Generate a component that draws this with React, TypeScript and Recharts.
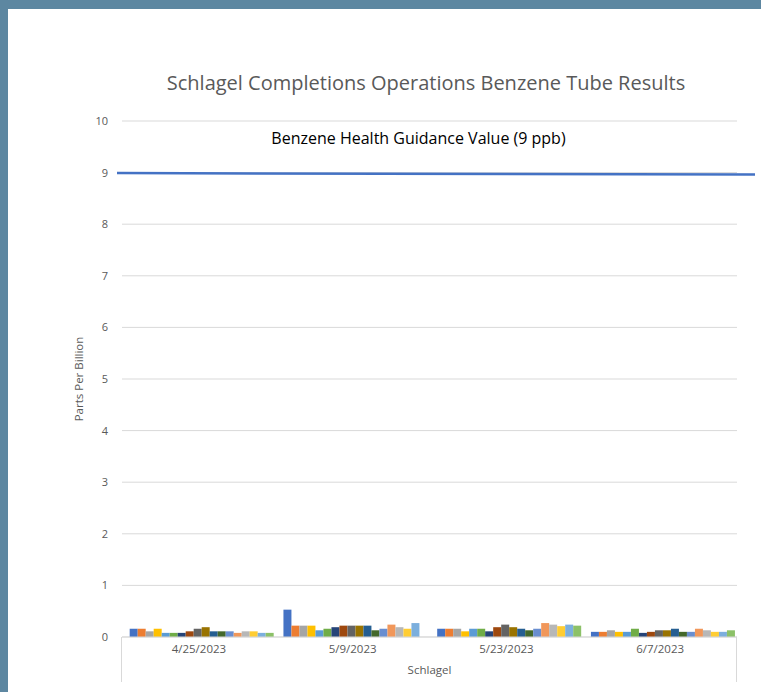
import { BarChart, Bar, XAxis, YAxis, CartesianGrid, ReferenceLine } from "recharts"

const dates = ["4/25/2023", "5/9/2023", "5/23/2023", "6/7/2023"]

// one value per sampling tube, in chart order
const apr25 = [0.16, 0.16, 0.11, 0.16, 0.08, 0.08, 0.08, 0.11, 0.16, 0.19, 0.11, 0.11, 0.11, 0.08, 0.11, 0.11, 0.08, 0.08]
const may9 = [0.53, 0.22, 0.22, 0.22, 0.13, 0.16, 0.19, 0.22, 0.22, 0.22, 0.22, 0.13, 0.16, 0.24, 0.19, 0.16, 0.27, null]
const may23 = [0.16, 0.16, 0.16, 0.11, 0.16, 0.16, 0.11, 0.19, 0.24, 0.19, 0.16, 0.13, 0.16, 0.27, 0.24, 0.21, 0.24, 0.22]
const jun7 = [0.1, 0.1, 0.13, 0.1, 0.1, 0.16, 0.08, 0.1, 0.13, 0.13, 0.16, 0.1, 0.1, 0.16, 0.13, 0.1, 0.1, 0.13]

const yTicks = [0, 1, 2, 3, 4, 5, 6, 7, 8, 9, 10]
const guidanceValue = 9

const colors = [
  "#4472C4", "#ED7D31", "#A5A5A5", "#FFC000", "#5B9BD5", "#70AD47",
  "#264478", "#9E480E", "#636363", "#997300", "#255E91", "#43682B",
  "#698ED0", "#F1975A", "#B7B7B7", "#FFCD33", "#7CAFDD", "#8CC168",
]

const groups = [apr25, may9, may23, jun7]
const data = dates.map((d, i) => {
  const row: Record<string, any> = { date: d }
  groups[i].forEach((v, k) => { row["t" + k] = v })
  return row
})

const font = "'Open Sans', sans-serif"

export default function App() {
  return (
    <div style={{ position: "absolute", left: 0, top: 0, width: 761, height: 692, background: "#5D87A1", overflow: "hidden", fontFamily: font }}>
      <div style={{ position: "absolute", left: 8, top: 9, width: 753, height: 683, background: "#fff" }} />
      <div style={{ position: "absolute", left: 0, top: 69, width: 852, textAlign: "center", fontSize: 20, lineHeight: "28px", color: "#595959" }}>
        Schlagel Completions Operations Benzene Tube Results
      </div>
      <div style={{ position: "absolute", left: 0, top: 126, width: 837, textAlign: "center", fontSize: 16, lineHeight: "24px", color: "#000" }}>
        Benzene Health Guidance Value (9 ppb)
      </div>
      <div style={{ position: "absolute", left: 121, top: 637, width: 1, height: 45, background: "#d9d9d9" }} />
      <div style={{ position: "absolute", left: 736, top: 637, width: 1, height: 45, background: "#d9d9d9" }} />
      <div style={{ position: "absolute", left: 0, top: 0 }}>
        <BarChart width={761} height={692} data={data} margin={{ top: 121, right: 24, left: 0, bottom: 10 }}
          barCategoryGap="5%" barGap={0}>
          <CartesianGrid vertical={false} stroke="#d9d9d9" />
          <XAxis dataKey="date" height={45} tickLine={false} axisLine={{ stroke: "#d9d9d9" }}
            tick={{ fontSize: 11.5, fill: "#595959", fontFamily: font }}
            label={{ value: "Schlagel", position: "insideBottom", offset: 8, fontSize: 11.5, fill: "#595959", fontFamily: font }} />
          <YAxis width={122} domain={[0, 10]} ticks={yTicks} axisLine={false} tickLine={false} tickMargin={8}
            tick={{ fontSize: 11, fill: "#595959", fontFamily: font }}
            label={{
              content: (p: any) => {
                const vb = p.viewBox
                const cy = vb.y + vb.height / 2
                return (
                  <text x={78} y={cy} transform={`rotate(-90 78 ${cy})`} textAnchor="middle" dominantBaseline="central"
                    fontSize={11.5} fill="#595959" fontFamily={font}>Parts Per Billion</text>
                )
              },
            }} />
          {colors.map((c, k) => (
            <Bar key={k} dataKey={"t" + k} name={"Tube " + (k + 1)} fill={c} isAnimationActive={false} />
          ))}
          <ReferenceLine y={guidanceValue} ifOverflow="visible"
            shape={(p: any) => (
              <line x1={p.x1 - 5} y1={p.y1 + 0.5} x2={p.x2 + 18} y2={p.y2 + 2} stroke="#4472C4" strokeWidth={2.5} />
            )} />
        </BarChart>
      </div>
    </div>
  )
}
